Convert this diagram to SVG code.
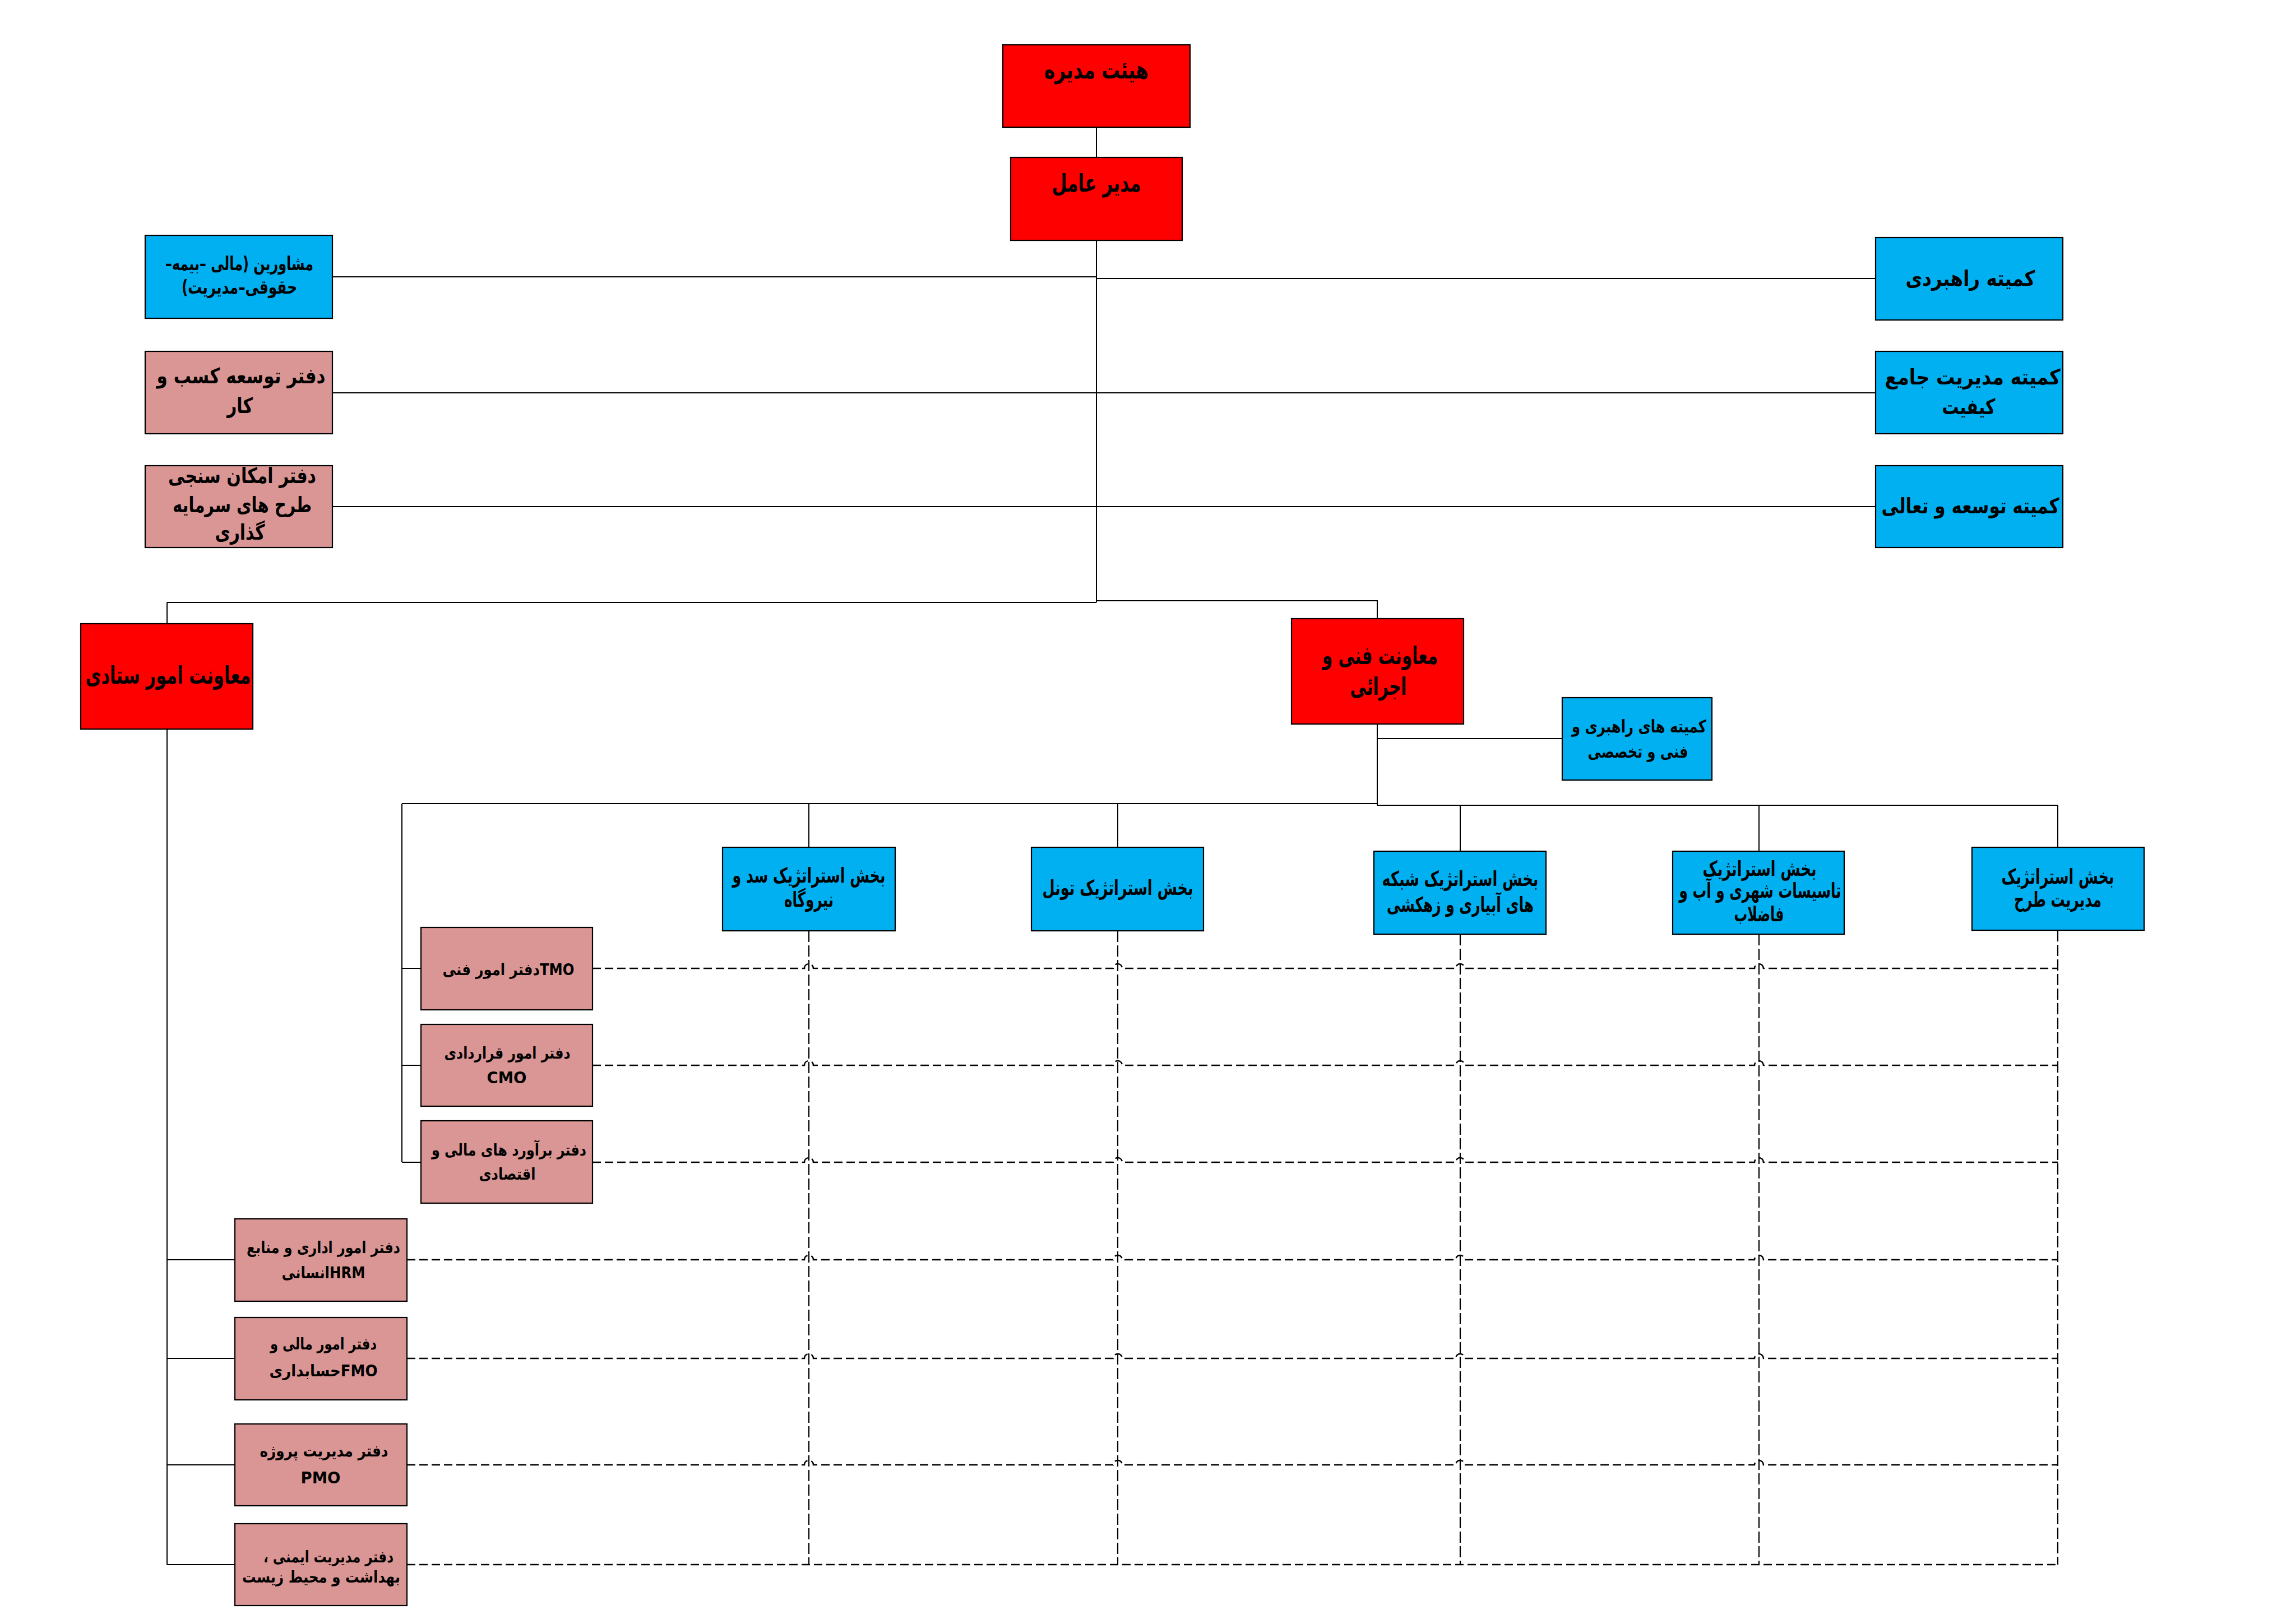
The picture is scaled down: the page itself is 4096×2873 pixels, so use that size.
<svg xmlns="http://www.w3.org/2000/svg" width="4096" height="2873" viewBox="0 0 4096 2873">
<style>
.red{fill:#FF0000;stroke:#000;stroke-width:2.2}
.blue{fill:#00B0F0;stroke:#000;stroke-width:2.2}
.pink{fill:#DA9694;stroke:#000;stroke-width:2.2}
.t{font-family:"DejaVu Sans",sans-serif;font-weight:bold;fill:#000;text-anchor:middle;direction:rtl}
.s44{font-size:44px}.s38{font-size:38px}.s34{font-size:34px}.s31{font-size:31px}.s29{font-size:29px}
.c{font-family:"DejaVu Sans Condensed","DejaVu Sans",sans-serif;font-size:37px}
.ln{fill:none;stroke:#000;stroke-width:2}
.dh{fill:none;stroke:#000;stroke-width:2.5;stroke-dasharray:15 7}
.dv{fill:none;stroke:#000;stroke-width:2.2;stroke-dasharray:20 6}
</style>
<rect width="4096" height="2873" fill="#fff"/>
<g id="connectors">
<path class="ln" d="M1956 227V281M1956 429V1075M298 1075H1956M298 1075V1113M1956 1072H2457V1104"/>
<path class="ln" d="M593 494H1956M1956 497H3346M593 701H3346M593 904H3346"/>
<path class="ln" d="M2457 1292V1437M2457 1318H2787M717 1434H2457M2457 1437H3671"/>
<path class="ln" d="M1443 1434V1512M1994 1434V1512M2605 1437V1519M3138 1437V1519M3671 1437V1512"/>
<path class="ln" d="M717 1434V2074M717 1728H751M717 1901H751M717 2074H751"/>
<path class="ln" d="M298 1301V2792M298 2248H419M298 2424H419M298 2614H419M298 2792H419"/>
<path class="dv" d="M1443 1661V2792M1994 1661V2792M2605 1667V2792M3138 1667V2792M3671 1660V2792"/>
<path class="dh" d="M1057 1728H1435A8 8 0 0 1 1451 1728H1986A8 8 0 0 1 2002 1728H2597A8 8 0 0 1 2613 1728H3130A8 8 0 0 1 3146 1728H3671"/>
<path class="dh" d="M1057 1901H1435A8 8 0 0 1 1451 1901H1986A8 8 0 0 1 2002 1901H2597A8 8 0 0 1 2613 1901H3130A8 8 0 0 1 3146 1901H3671"/>
<path class="dh" d="M1057 2074H1435A8 8 0 0 1 1451 2074H1986A8 8 0 0 1 2002 2074H2597A8 8 0 0 1 2613 2074H3130A8 8 0 0 1 3146 2074H3671"/>
<path class="dh" d="M726 2248H1435A8 8 0 0 1 1451 2248H1986A8 8 0 0 1 2002 2248H2597A8 8 0 0 1 2613 2248H3130A8 8 0 0 1 3146 2248H3671"/>
<path class="dh" d="M726 2424H1435A8 8 0 0 1 1451 2424H1986A8 8 0 0 1 2002 2424H2597A8 8 0 0 1 2613 2424H3130A8 8 0 0 1 3146 2424H3671"/>
<path class="dh" d="M726 2614H1435A8 8 0 0 1 1451 2614H1986A8 8 0 0 1 2002 2614H2597A8 8 0 0 1 2613 2614H3130A8 8 0 0 1 3146 2614H3671"/>
<path class="dh" d="M726 2792H3671"/>
</g>
<g id="board"><rect class="red" x="1789" y="80" width="334" height="147"/>
<text class="t s44" x="1956" y="140" textLength="186" lengthAdjust="spacingAndGlyphs">هیئت مدیره</text></g>
<g id="ceo"><rect class="red" x="1803" y="281" width="306" height="148"/>
<text class="t s44" x="1956" y="342" textLength="159" lengthAdjust="spacingAndGlyphs">مدیر عامل</text></g>
<g id="advisors"><rect class="blue" x="259" y="420" width="334" height="148"/>
<text class="t s34" x="427" y="482" textLength="264" lengthAdjust="spacingAndGlyphs">مشاورین (مالی –بیمه–</text>
<text class="t s34" x="427" y="524" textLength="206" lengthAdjust="spacingAndGlyphs">حقوقی–مدیریت)</text></g>
<g id="bizdev"><rect class="pink" x="259" y="627" width="334" height="147"/>
<text class="t s38" x="430" y="684" textLength="301" lengthAdjust="spacingAndGlyphs">دفتر توسعه کسب و</text>
<text class="t s38" x="428" y="737" textLength="46" lengthAdjust="spacingAndGlyphs">کار</text></g>
<g id="feasibility"><rect class="pink" x="259" y="831" width="334" height="146"/>
<text class="t s38" x="432" y="862" textLength="264" lengthAdjust="spacingAndGlyphs">دفتر امکان سنجی</text>
<text class="t s38" x="432" y="914" textLength="248" lengthAdjust="spacingAndGlyphs">طرح های سرمایه</text>
<text class="t s38" x="428" y="963" textLength="89" lengthAdjust="spacingAndGlyphs">گذاری</text></g>
<g id="strategic-committee"><rect class="blue" x="3346" y="424" width="334" height="147"/>
<text class="t s38" x="3515" y="510" textLength="231" lengthAdjust="spacingAndGlyphs">کمیته راهبردی</text></g>
<g id="tqm-committee"><rect class="blue" x="3346" y="627" width="334" height="147"/>
<text class="t s38" x="3519" y="686" textLength="313" lengthAdjust="spacingAndGlyphs">کمیته مدیریت جامع</text>
<text class="t s38" x="3512" y="739" textLength="95" lengthAdjust="spacingAndGlyphs">کیفیت</text></g>
<g id="excellence-committee"><rect class="blue" x="3346" y="831" width="334" height="146"/>
<text class="t s38" x="3515" y="916" textLength="317" lengthAdjust="spacingAndGlyphs">کمیته توسعه و تعالی</text></g>
<g id="admin-deputy"><rect class="red" x="144" y="1113" width="307" height="188"/>
<text class="t s44" x="300" y="1220" textLength="295" lengthAdjust="spacingAndGlyphs">معاونت امور ستادی</text></g>
<g id="tech-deputy"><rect class="red" x="2304" y="1104" width="307" height="188"/>
<text class="t s44" x="2462" y="1185" textLength="206" lengthAdjust="spacingAndGlyphs">معاونت فنی و</text>
<text class="t s44" x="2459" y="1240" textLength="101" lengthAdjust="spacingAndGlyphs">اجرائی</text></g>
<g id="tech-committees"><rect class="blue" x="2787" y="1245" width="267" height="147"/>
<text class="t s31" x="2924" y="1307" textLength="240" lengthAdjust="spacingAndGlyphs">کمیته های راهبری و</text>
<text class="t s31" x="2922" y="1352" textLength="179" lengthAdjust="spacingAndGlyphs">فنی و تخصصی</text></g>
<g id="sbu-dam"><rect class="blue" x="1289" y="1512" width="308" height="149"/>
<text class="t c" x="1443" y="1575" textLength="273" lengthAdjust="spacingAndGlyphs">بخش استراتژیک سد و</text>
<text class="t c" x="1443" y="1618" textLength="88" lengthAdjust="spacingAndGlyphs">نیروگاه</text></g>
<g id="sbu-tunnel"><rect class="blue" x="1840" y="1512" width="307" height="149"/>
<text class="t c" x="1994" y="1597" textLength="269" lengthAdjust="spacingAndGlyphs">بخش استراتژیک تونل</text></g>
<g id="sbu-irrigation"><rect class="blue" x="2451" y="1519" width="307" height="148"/>
<text class="t c" x="2605" y="1581" textLength="279" lengthAdjust="spacingAndGlyphs">بخش استراتژیک شبکه</text>
<text class="t c" x="2605" y="1627" textLength="262" lengthAdjust="spacingAndGlyphs">های آبیاری و زهکشی</text></g>
<g id="sbu-urban"><rect class="blue" x="2984" y="1519" width="306" height="148"/>
<text class="t c" x="3139" y="1563" textLength="203" lengthAdjust="spacingAndGlyphs">بخش استراتژیک</text>
<text class="t c" x="3140" y="1602" textLength="289" lengthAdjust="spacingAndGlyphs">تاسیسات شهری و آب و</text>
<text class="t c" x="3138" y="1644" textLength="89" lengthAdjust="spacingAndGlyphs">فاضلاب</text></g>
<g id="sbu-pm"><rect class="blue" x="3518" y="1512" width="307" height="148"/>
<text class="t c" x="3671" y="1577" textLength="201" lengthAdjust="spacingAndGlyphs">بخش استراتژیک</text>
<text class="t c" x="3671" y="1618" textLength="156" lengthAdjust="spacingAndGlyphs">مدیریت طرح</text></g>
<g id="tmo"><rect class="pink" x="751" y="1655" width="306" height="147"/>
<text class="t s29" x="907" y="1740" textLength="235" lengthAdjust="spacingAndGlyphs">TMOدفتر امور فنی</text></g>
<g id="cmo"><rect class="pink" x="751" y="1828" width="306" height="146"/>
<text class="t s29" x="905" y="1889" textLength="225" lengthAdjust="spacingAndGlyphs">دفتر امور قراردادی</text>
<text class="t s29" x="904" y="1933" textLength="71" lengthAdjust="spacingAndGlyphs">CMO</text></g>
<g id="estimates"><rect class="pink" x="751" y="2000" width="306" height="147"/>
<text class="t s29" x="908" y="2062" textLength="276" lengthAdjust="spacingAndGlyphs">دفتر برآورد های مالی و</text>
<text class="t s29" x="905" y="2105" textLength="101" lengthAdjust="spacingAndGlyphs">اقتصادی</text></g>
<g id="hrm"><rect class="pink" x="419" y="2175" width="307" height="147"/>
<text class="t s29" x="577" y="2236" textLength="274" lengthAdjust="spacingAndGlyphs">دفتر امور اداری و منابع</text>
<text class="t s29" x="577" y="2281" textLength="149" lengthAdjust="spacingAndGlyphs">HRMانسانی</text></g>
<g id="fmo"><rect class="pink" x="419" y="2351" width="307" height="147"/>
<text class="t s29" x="577" y="2408" textLength="190" lengthAdjust="spacingAndGlyphs">دفتر امور مالی و</text>
<text class="t s29" x="577" y="2456" textLength="193" lengthAdjust="spacingAndGlyphs">FMOحسابداری</text></g>
<g id="pmo"><rect class="pink" x="419" y="2541" width="307" height="146"/>
<text class="t s29" x="578" y="2599" textLength="229" lengthAdjust="spacingAndGlyphs">دفتر مدیریت پروژه</text>
<text class="t s29" x="572" y="2647" textLength="71" lengthAdjust="spacingAndGlyphs">PMO</text></g>
<g id="hse"><rect class="pink" x="419" y="2719" width="307" height="146"/>
<text class="t s29" x="586" y="2788" textLength="232" lengthAdjust="spacingAndGlyphs">دفتر مدیریت ایمنی ،</text>
<text class="t s29" x="573" y="2824" textLength="282" lengthAdjust="spacingAndGlyphs">بهداشت و محیط زیست</text></g>
</svg>
